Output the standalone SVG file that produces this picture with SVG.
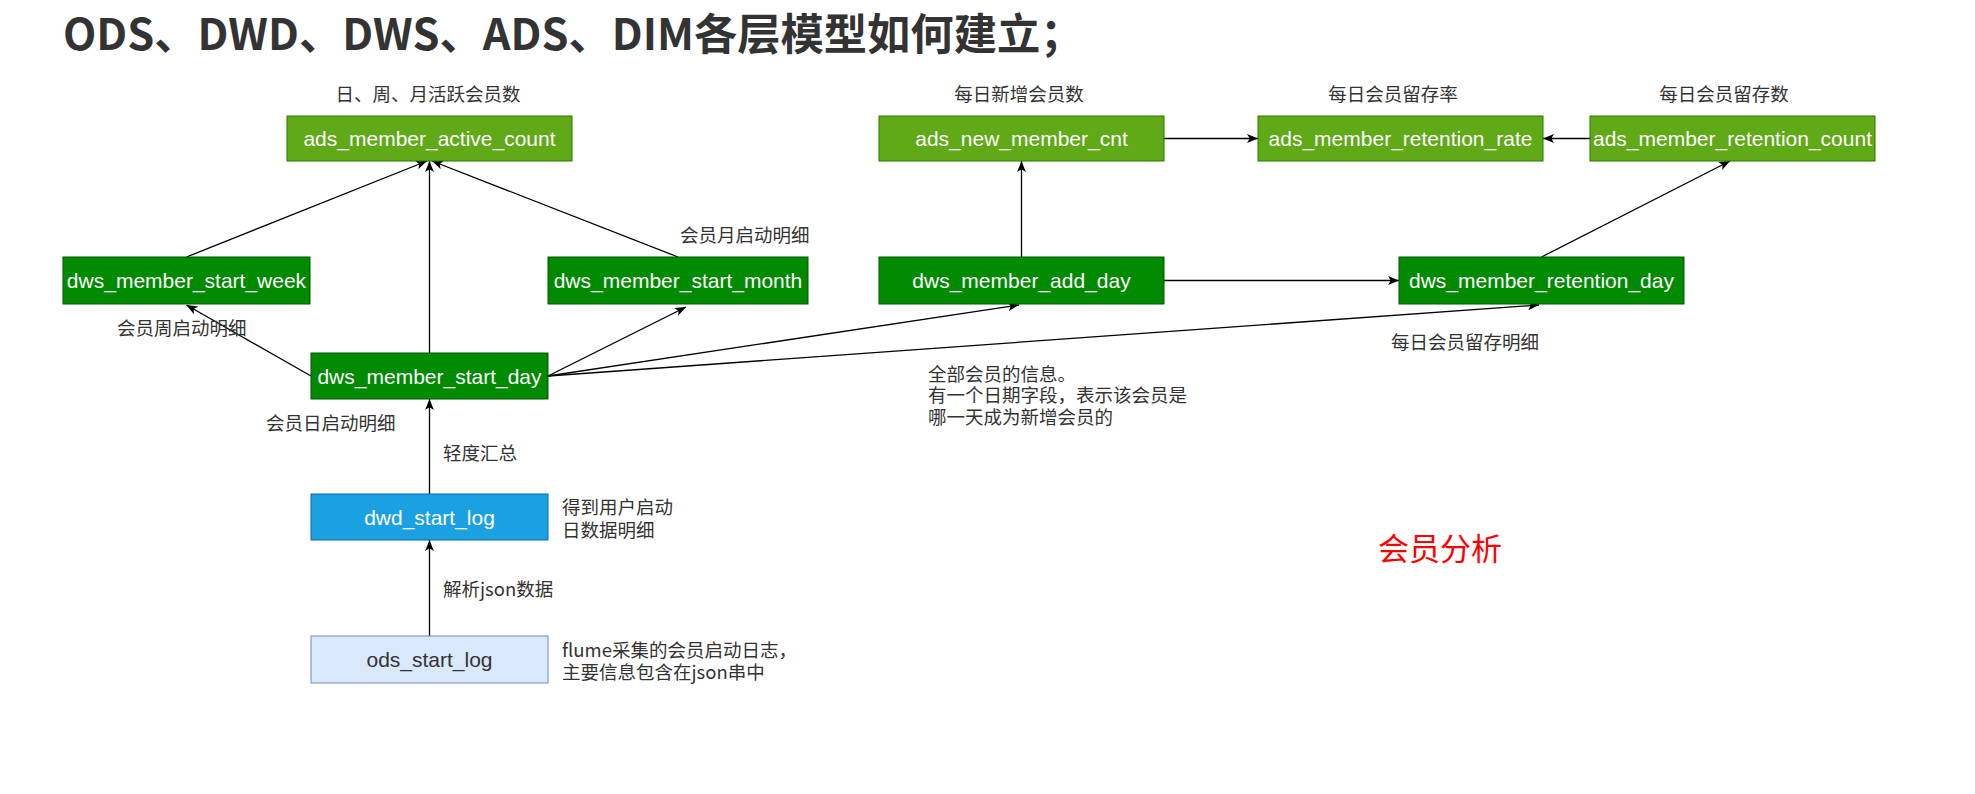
<svg xmlns="http://www.w3.org/2000/svg" width="1975" height="794" viewBox="0 0 1975 794">
  <style>
    .ads { fill: #60A917; stroke: #2D7600; stroke-width: 1; }
    .dws { fill: #008A00; stroke: #005700; stroke-width: 1; }
    .dwd { fill: #1BA1E2; stroke: #006EAF; stroke-width: 1; }
    .ods { fill: #DAE8FC; stroke: #6C8EBF; stroke-width: 1; }
    .name { font-family: "Liberation Sans", Arial, sans-serif; font-size: 21px; fill: #FFFFFF; text-anchor: middle; dominant-baseline: central; }
    .name.dark { fill: #333333; }
    .note { font-family: "Noto Sans CJK SC", "Liberation Sans", sans-serif; font-size: 18.5px; fill: #333333; dominant-baseline: central; }
    .mid { text-anchor: middle; }
    .edge { fill: none; stroke: #000000; stroke-width: 1.3; marker-end: url(#arrow); }
    .title { font-family: "Noto Sans CJK SC", "Liberation Sans", sans-serif; font-size: 43.3px; font-weight: bold; fill: #333333; }
    .tag { font-family: "Noto Sans CJK SC", "Liberation Sans", sans-serif; font-size: 31px; fill: #FF0000; dominant-baseline: central; }
  </style>
  <defs>
    <marker id="arrow" viewBox="0 0 10 8" refX="10" refY="4" markerWidth="11" markerHeight="9" orient="auto" markerUnits="userSpaceOnUse">
      <path d="M0,0 L10,4 L0,8 L2.5,4 z" fill="#000000"/>
    </marker>
  </defs>

  <rect width="1975" height="794" fill="#FFFFFF"/>

  <text class="title" x="63" y="50">ODS、DWD、DWS、ADS、DIM各层模型如何建立；</text>

  <!-- connectors -->
  <g id="connectors">
    <line class="edge" x1="429.5" y1="636" x2="429.5" y2="540"/>
    <line class="edge" x1="429.5" y1="494" x2="429.5" y2="399"/>
    <line class="edge" x1="429.5" y1="353" x2="429.5" y2="161"/>
    <line class="edge" x1="186.5" y1="257" x2="427" y2="161"/>
    <line class="edge" x1="678" y1="257" x2="432" y2="161"/>
    <line class="edge" x1="311" y1="376" x2="186.5" y2="305"/>
    <line class="edge" x1="548" y1="376" x2="686" y2="307"/>
    <line class="edge" x1="548" y1="376" x2="1019" y2="305"/>
    <line class="edge" x1="548" y1="376" x2="1539" y2="305"/>
    <line class="edge" x1="1021.5" y1="257" x2="1021.5" y2="161"/>
    <line class="edge" x1="1164" y1="280.5" x2="1399" y2="280.5"/>
    <line class="edge" x1="1541.5" y1="257" x2="1730" y2="161"/>
    <line class="edge" x1="1164" y1="138.5" x2="1258" y2="138.5"/>
    <line class="edge" x1="1590" y1="138.5" x2="1543" y2="138.5"/>
  </g>

  <!-- ADS layer -->
  <g id="ads_member_active_count">
    <rect class="ads" x="287" y="116" width="285" height="45"/>
    <text class="name" x="429.5" y="138.5">ads_member_active_count</text>
  </g>
  <g id="ads_new_member_cnt">
    <rect class="ads" x="879" y="116" width="285" height="45"/>
    <text class="name" x="1021.5" y="138.5">ads_new_member_cnt</text>
  </g>
  <g id="ads_member_retention_rate">
    <rect class="ads" x="1258" y="116" width="285" height="45"/>
    <text class="name" x="1400.5" y="138.5">ads_member_retention_rate</text>
  </g>
  <g id="ads_member_retention_count">
    <rect class="ads" x="1590" y="116" width="285" height="45"/>
    <text class="name" x="1732.5" y="138.5">ads_member_retention_count</text>
  </g>

  <!-- DWS layer -->
  <g id="dws_member_start_week">
    <rect class="dws" x="63" y="257" width="247" height="47"/>
    <text class="name" x="186.5" y="280.5">dws_member_start_week</text>
  </g>
  <g id="dws_member_start_month">
    <rect class="dws" x="548" y="257" width="260" height="47"/>
    <text class="name" x="678" y="280.5">dws_member_start_month</text>
  </g>
  <g id="dws_member_add_day">
    <rect class="dws" x="879" y="257" width="285" height="47"/>
    <text class="name" x="1021.5" y="280.5">dws_member_add_day</text>
  </g>
  <g id="dws_member_retention_day">
    <rect class="dws" x="1399" y="257" width="285" height="47"/>
    <text class="name" x="1541.5" y="280.5">dws_member_retention_day</text>
  </g>
  <g id="dws_member_start_day">
    <rect class="dws" x="311" y="353" width="237" height="46"/>
    <text class="name" x="429.5" y="376">dws_member_start_day</text>
  </g>

  <!-- DWD layer -->
  <g id="dwd_start_log">
    <rect class="dwd" x="311" y="494" width="237" height="46"/>
    <text class="name" x="429.5" y="517">dwd_start_log</text>
  </g>

  <!-- ODS layer -->
  <g id="ods_start_log">
    <rect class="ods" x="311" y="636" width="237" height="47"/>
    <text class="name dark" x="429.5" y="659.5">ods_start_log</text>
  </g>

  <!-- annotations -->
  <g id="notes">
    <text class="note mid" x="428" y="93">日、周、月活跃会员数</text>
    <text class="note mid" x="1019" y="93">每日新增会员数</text>
    <text class="note mid" x="1393" y="93">每日会员留存率</text>
    <text class="note mid" x="1724" y="93">每日会员留存数</text>
    <text class="note" x="680" y="234">会员月启动明细</text>
    <text class="note" x="117" y="327">会员周启动明细</text>
    <text class="note" x="266" y="422">会员日启动明细</text>
    <text class="note" x="1391" y="341">每日会员留存明细</text>
    <text class="note" x="928" y="373">全部会员的信息。</text>
    <text class="note" x="928" y="394">有一个日期字段，表示该会员是</text>
    <text class="note" x="928" y="416">哪一天成为新增会员的</text>
    <text class="note" x="443" y="452">轻度汇总</text>
    <text class="note" x="562" y="506">得到用户启动</text>
    <text class="note" x="562" y="529">日数据明细</text>
    <text class="note" x="443" y="588">解析json数据</text>
    <text class="note" x="562" y="649">flume采集的会员启动日志，</text>
    <text class="note" x="562" y="671">主要信息包含在json串中</text>
    <text class="tag" x="1378" y="546">会员分析</text>
  </g>
</svg>
